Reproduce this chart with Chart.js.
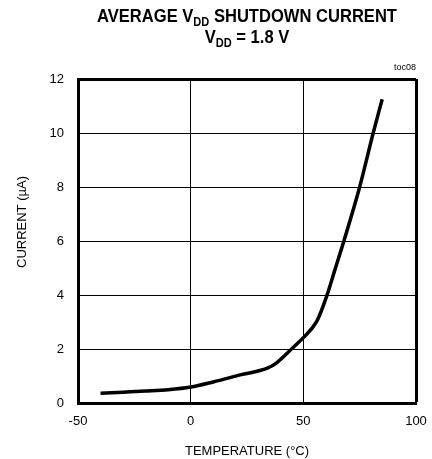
<!DOCTYPE html>
<html>
<head>
<meta charset="utf-8">
<script src="https://cdn.jsdelivr.net/npm/chart.js@4/dist/chart.umd.min.js"></script>
<style>
  html, body { margin: 0; padding: 0; background: #fff; }
</style>
</head>
<body>
<canvas id="myChart" width="432" height="459"></canvas>
<script>
// temperature (°C) and average shutdown current (µA)
const temperatura = [-40, -30, -20, -10, 0, 10, 22, 34, 38, 45, 50, 56, 60.3, 64, 68, 75, 81, 85];
const corrente = [0.36, 0.40, 0.44, 0.49, 0.59, 0.78, 1.04, 1.29, 1.48, 2.02, 2.42, 3.03, 3.94, 4.93, 6.0, 8.0, 10.0, 11.25];
const xTicks = [-50, 0, 50, 100];
const yTicks = [0, 2, 4, 6, 8, 10, 12];

const FONTE = '"Liberation Sans", Arial, sans-serif';

// draws title with subscripts, the y title and the "toc08" tag
const tituloPlugin = {
    id: 'tituloSub',
    afterDraw(chart) {
        const ctx = chart.ctx;
        const cx = (chart.chartArea.left + chart.chartArea.right) / 2;
        const linhas = [
            { y: 22, partes: [['AVERAGE V', 0], ['DD', 1], [' SHUTDOWN CURRENT', 0]] },
            { y: 43, partes: [['V', 0], ['DD', 1], [' = 1.8 V', 0]] }
        ];
        ctx.save();
        ctx.fillStyle = '#000';
        ctx.textBaseline = 'alphabetic';
        const escala = 0.92;
        linhas.forEach(l => {
            let total = 0;
            l.partes.forEach(p => {
                ctx.font = 'bold ' + (p[1] ? 12 : 18) + 'px ' + FONTE;
                total += ctx.measureText(p[0]).width;
            });
            ctx.save();
            ctx.translate(cx - total * escala / 2, l.y);
            ctx.scale(escala, 1);
            let x = 0;
            l.partes.forEach(p => {
                ctx.font = 'bold ' + (p[1] ? 12 : 18) + 'px ' + FONTE;
                ctx.fillText(p[0], x, p[1] ? 4 : 0);
                x += ctx.measureText(p[0]).width;
            });
            ctx.restore();
        });
        ctx.font = '9px ' + FONTE;
        ctx.textAlign = 'right';
        ctx.fillText('toc08', chart.chartArea.right, 70);

        ctx.save();
        ctx.translate(22, 222);
        ctx.rotate(-Math.PI / 2);
        ctx.textAlign = 'center';
        ctx.textBaseline = 'middle';
        ctx.font = '13px ' + FONTE;
        ctx.fillText('CURRENT (µA)', 0, 0);
        ctx.restore();
        ctx.restore();
    }
};

const data = {
    datasets: [{
        label: 'I_DD',
        data: temperatura.map((t, i) => ({ x: t, y: corrente[i] })),
        borderColor: '#000',
        borderWidth: 3.5,
        pointRadius: 0,
        fill: false,
        cubicInterpolationMode: 'monotone'
    }]
};

const config = {
    type: 'line',
    data: data,
    options: {
        responsive: false,
        animation: false,
        layout: { padding: { top: 79, right: 16, left: 0, bottom: 0 } },
        plugins: {
            legend: { display: false },
            tooltip: { enabled: false }
        },
        scales: {
            x: {
                type: 'linear',
                min: -50,
                max: 100,
                afterBuildTicks: s => { s.ticks = xTicks.map(v => ({ value: v })); },
                afterFit: s => { s.height = 56; s.paddingLeft = 0; s.paddingRight = 0; },
                ticks: { color: '#000', padding: 11, font: { size: 13, family: FONTE } },
                grid: {
                    color: '#000',
                    drawTicks: false,
                    lineWidth: c => (c.tick && c.tick.value === 100 ? 3 : 1)
                },
                border: { color: '#000', width: 3 },
                title: {
                    display: true,
                    text: 'TEMPERATURE (°C)',
                    color: '#000',
                    font: { size: 13, family: FONTE },
                    padding: { top: 4, bottom: 0 }
                }
            },
            y: {
                min: 0,
                max: 12,
                afterBuildTicks: s => { s.ticks = yTicks.map(v => ({ value: v })); },
                afterFit: s => { s.width = 78; s.paddingTop = 0; s.paddingBottom = 0; },
                ticks: { color: '#000', padding: 14, font: { size: 13, family: FONTE } },
                grid: {
                    color: '#000',
                    drawTicks: false,
                    lineWidth: c => (c.tick && c.tick.value === 12 ? 3 : 1)
                },
                border: { color: '#000', width: 3 }
            }
        }
    },
    plugins: [tituloPlugin]
};

const myChart = new Chart(
    document.getElementById('myChart'),
    config
);
</script>
</body>
</html>
